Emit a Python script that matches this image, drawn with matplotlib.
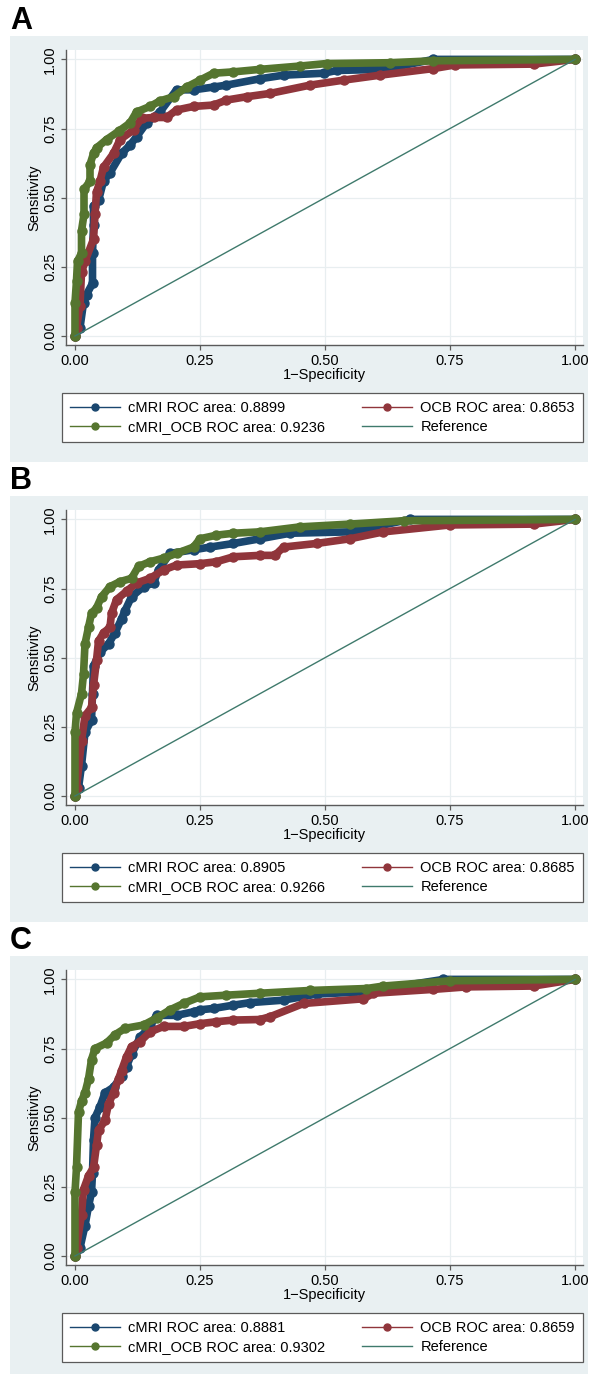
import matplotlib
matplotlib.use("Agg")
from matplotlib import pyplot as plt
from matplotlib.lines import Line2D
from matplotlib.patches import Rectangle

plt.rcParams["font.family"] = ["Liberation Sans", "DejaVu Sans"]

W, H = 590, 1374

# Panel A
a_cmri_fpr = [0, 0.01, 0.017, 0.023, 0.035, 0.035, 0.037, 0.037, 0.047, 0.057, 0.07, 0.093, 0.11, 0.123, 0.143, 0.17,
              0.203, 0.237, 0.277, 0.303, 0.37, 0.417, 0.497, 0.523, 0.617, 0.717, 1.0]
a_cmri_tpr = [0, 0.03, 0.12, 0.15, 0.19, 0.30, 0.40, 0.47, 0.49, 0.56, 0.59, 0.66, 0.69, 0.72, 0.77, 0.81,
              0.89, 0.89, 0.90, 0.907, 0.93, 0.943, 0.95, 0.96, 0.964, 1.0, 1.0]
a_ocb_fpr = [0, 0.003, 0.01, 0.013, 0.02, 0.037, 0.04, 0.043, 0.05, 0.057, 0.077, 0.09, 0.117, 0.133, 0.157, 0.183,
             0.203, 0.237, 0.277, 0.303, 0.343, 0.39, 0.47, 0.537, 0.61, 0.717, 0.76, 0.917, 1.0]
a_ocb_tpr = [0, 0.03, 0.11, 0.23, 0.27, 0.35, 0.44, 0.52, 0.56, 0.61, 0.66, 0.71, 0.745, 0.787, 0.79, 0.79,
             0.817, 0.83, 0.835, 0.853, 0.865, 0.877, 0.907, 0.925, 0.943, 0.967, 0.98, 0.983, 1.0]
a_both_fpr = [0, 0, 0.003, 0.005, 0.013, 0.013, 0.018, 0.018, 0.03, 0.03, 0.037, 0.043, 0.063, 0.087, 0.11, 0.123,
              0.15, 0.17, 0.197, 0.223, 0.25, 0.277, 0.317, 0.37, 0.45, 0.503, 0.63, 0.717, 1.0]
a_both_tpr = [0, 0.12, 0.2, 0.27, 0.3, 0.38, 0.44, 0.53, 0.56, 0.62, 0.66, 0.68, 0.71, 0.74, 0.77, 0.81,
              0.83, 0.85, 0.865, 0.90, 0.925, 0.95, 0.955, 0.964, 0.976, 0.985, 0.988, 0.995, 1.0]
a_auc = ["0.8899", "0.8653", "0.9236"]

# Panel B
b_cmri_fpr = [0, 0.007, 0.013, 0.02, 0.033, 0.035, 0.037, 0.05, 0.067, 0.08, 0.093, 0.1, 0.113, 0.137, 0.157, 0.167,
              0.19, 0.237, 0.27, 0.317, 0.37, 0.43, 0.55, 0.67, 1.0]
b_cmri_tpr = [0, 0.03, 0.11, 0.23, 0.275, 0.37, 0.47, 0.52, 0.55, 0.59, 0.64, 0.67, 0.72, 0.757, 0.77, 0.817,
              0.877, 0.89, 0.90, 0.913, 0.93, 0.95, 0.955, 1.0, 1.0]
b_ocb_fpr = [0, 0.003, 0.013, 0.02, 0.033, 0.037, 0.043, 0.047, 0.057, 0.07, 0.073, 0.083, 0.103, 0.123, 0.15, 0.177,
             0.203, 0.25, 0.283, 0.317, 0.37, 0.4, 0.417, 0.483, 0.55, 0.617, 0.75, 0.917, 1.0]
b_ocb_tpr = [0, 0.03, 0.20, 0.29, 0.32, 0.40, 0.49, 0.56, 0.59, 0.61, 0.66, 0.71, 0.74, 0.77, 0.787, 0.817,
             0.835, 0.84, 0.847, 0.865, 0.87, 0.87, 0.90, 0.913, 0.93, 0.955, 0.98, 0.983, 1.0]
b_both_fpr = [0, 0, 0.003, 0.013, 0.017, 0.02, 0.027, 0.033, 0.043, 0.053, 0.07, 0.09, 0.113, 0.127, 0.15, 0.177,
              0.203, 0.237, 0.25, 0.283, 0.317, 0.37, 0.45, 0.55, 0.657, 1.0]
b_both_tpr = [0, 0.23, 0.30, 0.37, 0.44, 0.55, 0.61, 0.66, 0.68, 0.72, 0.757, 0.775, 0.787, 0.83, 0.847, 0.86,
              0.877, 0.90, 0.93, 0.943, 0.95, 0.955, 0.973, 0.983, 0.995, 1.0]
b_auc = ["0.8905", "0.8685", "0.9266"]

# Panel C
c_cmri_fpr = [0, 0.01, 0.02, 0.027, 0.033, 0.035, 0.037, 0.04, 0.05, 0.06, 0.077, 0.093, 0.103, 0.113, 0.13, 0.15,
              0.163, 0.203, 0.237, 0.25, 0.277, 0.317, 0.35, 0.417, 0.483, 0.577, 0.737, 1.0]
c_cmri_tpr = [0, 0.03, 0.11, 0.18, 0.23, 0.30, 0.42, 0.50, 0.54, 0.59, 0.61, 0.65, 0.685, 0.73, 0.79, 0.83,
              0.87, 0.87, 0.883, 0.89, 0.895, 0.907, 0.916, 0.925, 0.947, 0.955, 1.0, 1.0]
c_ocb_fpr = [0, 0.003, 0.013, 0.017, 0.027, 0.037, 0.043, 0.047, 0.06, 0.067, 0.077, 0.087, 0.093, 0.103, 0.113,
             0.13, 0.15, 0.177, 0.217, 0.25, 0.283, 0.317, 0.37, 0.39, 0.457, 0.577, 0.597, 0.717, 0.783, 0.917, 1.0]
c_ocb_tpr = [0, 0.03, 0.15, 0.24, 0.29, 0.32, 0.40, 0.455, 0.49, 0.55, 0.59, 0.64, 0.67, 0.72, 0.757,
             0.775, 0.81, 0.83, 0.83, 0.84, 0.847, 0.853, 0.855, 0.865, 0.913, 0.93, 0.95, 0.964, 0.973, 0.976, 1.0]
c_both_fpr = [0, 0, 0.003, 0.007, 0.013, 0.02, 0.027, 0.033, 0.04, 0.063, 0.08, 0.1, 0.137, 0.163, 0.19, 0.217,
              0.25, 0.303, 0.37, 0.47, 0.583, 0.617, 0.75, 1.0]
c_both_tpr = [0, 0.23, 0.32, 0.52, 0.56, 0.59, 0.64, 0.71, 0.75, 0.77, 0.80, 0.823, 0.835, 0.86, 0.89, 0.913,
              0.937, 0.943, 0.95, 0.96, 0.967, 0.976, 0.995, 1.0]
c_auc = ["0.8881", "0.8659", "0.9302"]

ticks = [0, 0.25, 0.5, 0.75, 1.0]
tick_labels = ["0.00", "0.25", "0.50", "0.75", "1.00"]

BLUE = "#1a476f"
RED = "#90353b"
GREEN = "#55752f"
REF = "#3f7a6c"
BG = "#e9f0f2"
AXC = "#5a5a5a"
FS = 10.5


def fig_box(left, top, right, bottom):
    """pixel box -> figure fraction [x, y, w, h]"""
    return [left / W, 1 - bottom / H, (right - left) / W, (bottom - top) / H]


def draw_panel(fig, dy, letter, curves, aucs):
    # light background of the stata graph region
    bottom = min(462 + dy, H)
    bg = Rectangle((10 / W, 1 - bottom / H), 578 / W, (bottom - 36 - dy) / H,
                   transform=fig.transFigure, facecolor=BG, edgecolor="none", zorder=-5)
    fig.add_artist(bg)
    fig.text(10 / W, 1 - (6 + dy) / H, letter, fontsize=22, fontweight="bold", va="top", ha="left")

    ax = fig.add_axes(fig_box(66, 50 + dy, 583, 345 + dy))
    ax.set_facecolor("white")
    ax.set_xlim(-0.018, 1.016)
    ax.set_ylim(-0.0325, 1.034)
    ax.grid(True, color="#e8eef0", lw=0.9)
    ax.set_axisbelow(True)
    for s in ["top", "right"]:
        ax.spines[s].set_visible(False)
    for s in ["left", "bottom"]:
        ax.spines[s].set_color(AXC)
        ax.spines[s].set_linewidth(1.0)
    ax.set_xticks(ticks)
    ax.set_xticklabels(tick_labels)
    ax.set_yticks(ticks)
    ax.set_yticklabels(tick_labels, rotation=90, va="center")
    ax.tick_params(direction="out", length=3.5, width=0.9, color=AXC, labelsize=FS, pad=3)
    ax.set_xlabel("1\u2212Specificity", fontsize=FS, labelpad=0)
    ax.set_ylabel("Sensitivity", fontsize=FS, labelpad=1)

    for (fpr, tpr), col in zip(curves, [BLUE, RED, GREEN]):
        ax.plot(fpr, tpr, color=col, lw=5.5, marker="o", ms=6.5, solid_joinstyle="round",
                solid_capstyle="round", clip_on=False)
    ax.plot([0, 1], [0, 1], color=REF, lw=1.0)

    handles = [
        Line2D([], [], color=BLUE, lw=1, marker="o", ms=5),
        Line2D([], [], color=GREEN, lw=1, marker="o", ms=5),
        Line2D([], [], color=RED, lw=1, marker="o", ms=5),
        Line2D([], [], color=REF, lw=1),
    ]
    labels = [
        f"cMRI ROC area: {aucs[0]}",
        f"cMRI_OCB ROC area: {aucs[2]}",
        f"OCB ROC area: {aucs[1]}",
        "Reference",
    ]
    leg = fig.legend(handles, labels, ncol=2, loc="center", mode="expand",
                     bbox_to_anchor=fig_box(62, 392 + dy, 583, 443 + dy),
                     fontsize=FS, handlelength=3.4, handletextpad=0.6, labelspacing=0.3,
                     borderpad=0.55, borderaxespad=0, fancybox=False, framealpha=1, edgecolor=AXC)
    leg.get_frame().set_linewidth(0.9)
    return ax


fig = plt.figure(figsize=(W / 100, H / 100), dpi=100)
fig.patch.set_facecolor("white")

draw_panel(fig, 0, "A", [(a_cmri_fpr, a_cmri_tpr), (a_ocb_fpr, a_ocb_tpr), (a_both_fpr, a_both_tpr)], a_auc)
draw_panel(fig, 460, "B", [(b_cmri_fpr, b_cmri_tpr), (b_ocb_fpr, b_ocb_tpr), (b_both_fpr, b_both_tpr)], b_auc)
draw_panel(fig, 920, "C", [(c_cmri_fpr, c_cmri_tpr), (c_ocb_fpr, c_ocb_tpr), (c_both_fpr, c_both_tpr)], c_auc)

fig.savefig("out.png", dpi=100)
